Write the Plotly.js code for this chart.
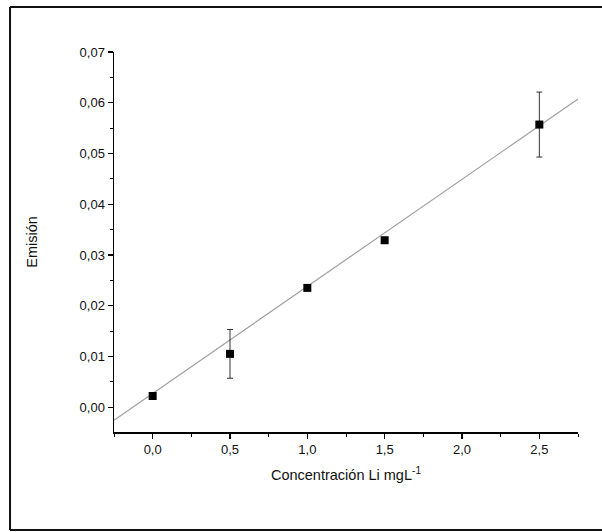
<!DOCTYPE html>
<html>
<head>
<meta charset="utf-8">
<script src="https://cdn.plot.ly/plotly-3.0.1.min.js"></script>
<style>
  html, body { margin: 0; padding: 0; background: #fff; }
  #chart { width: 602px; height: 532px; }
</style>
</head>
<body>
<div id="chart"></div>
<script>
// Data
const concentration = [0, 0.5, 1.0, 1.5, 2.5];
const emission = [0.0022, 0.0105, 0.0235, 0.0329, 0.0557];
const emissionError = [0, 0.0048, 0, 0, 0.0064];

// Linear fit as drawn
const fitSlope = 0.0211;
const fitIntercept = 0.0027;
const fitRange = [-0.25, 2.75];

const xTickVals = [0, 0.5, 1.0, 1.5, 2.0, 2.5];
const yTickVals = [0, 0.01, 0.02, 0.03, 0.04, 0.05, 0.06, 0.07];

const fitY = fitRange.map(x => fitIntercept + fitSlope * x);

const traces = [
  {
    x: fitRange, y: fitY, type: 'scatter', mode: 'lines',
    line: { color: '#a0a0a0', width: 1.2 }, hoverinfo: 'skip', showlegend: false
  },
  {
    x: concentration, y: emission, type: 'scatter', mode: 'markers',
    marker: { symbol: 'square', size: 8, color: '#000' },
    error_y: { type: 'data', array: emissionError, visible: true, color: '#333', thickness: 1, width: 3 },
    showlegend: false
  }
];

const font = { family: 'Liberation Sans, Arial, sans-serif', color: '#111' };

const layout = {
  width: 602, height: 532,
  margin: { l: 114, r: 24, t: 52, b: 100 },
  paper_bgcolor: '#fff', plot_bgcolor: '#fff',
  separators: ',.',
  font: Object.assign({ size: 13 }, font),
  showlegend: false,
  xaxis: {
    range: [-0.25, 2.75],
    tickvals: xTickVals, tickformat: '.1f',
    ticks: 'outside', ticklen: 5, tickwidth: 1.2, tickcolor: '#000',
    showline: true, linecolor: '#000', linewidth: 1.5,
    showgrid: false, zeroline: false,
    minor: { dtick: 0.25, tick0: 0, ticks: 'outside', ticklen: 3, tickcolor: '#000', tickwidth: 1, showgrid: false },
    tickfont: Object.assign({ size: 13 }, font),
    title: { text: 'Concentración Li mgL<sup>-1</sup>', font: Object.assign({ size: 14.5 }, font), standoff: 14 }
  },
  yaxis: {
    range: [-0.0049, 0.07],
    tickvals: yTickVals, tickformat: '.2f',
    ticks: 'outside', ticklen: 5, tickwidth: 1.2, tickcolor: '#000',
    showline: true, linecolor: '#000', linewidth: 1.5,
    showgrid: false, zeroline: false,
    minor: { dtick: 0.005, tick0: 0, ticks: 'outside', ticklen: 3, tickcolor: '#000', tickwidth: 1, showgrid: false },
    tickfont: Object.assign({ size: 13 }, font),
    title: { text: 'Emisión', font: Object.assign({ size: 14.5 }, font), standoff: 38 }
  },
  shapes: [
    { type: 'line', xref: 'paper', yref: 'paper', x0: -0.2241, x1: 1.06, y0: 1.1184, y1: 1.1184, line: { color: '#111', width: 2 } },
    { type: 'line', xref: 'paper', yref: 'paper', x0: -0.2241, x1: -0.2241, y0: 1.1184, y1: -0.2579, line: { color: '#111', width: 2 } },
    { type: 'line', xref: 'paper', yref: 'paper', x0: -0.2241, x1: 1.06, y0: -0.2579, y1: -0.2579, line: { color: '#111', width: 2 } }
  ]
};

Plotly.newPlot('chart', traces, layout, { displayModeBar: false, staticPlot: true });
</script>
</body>
</html>
